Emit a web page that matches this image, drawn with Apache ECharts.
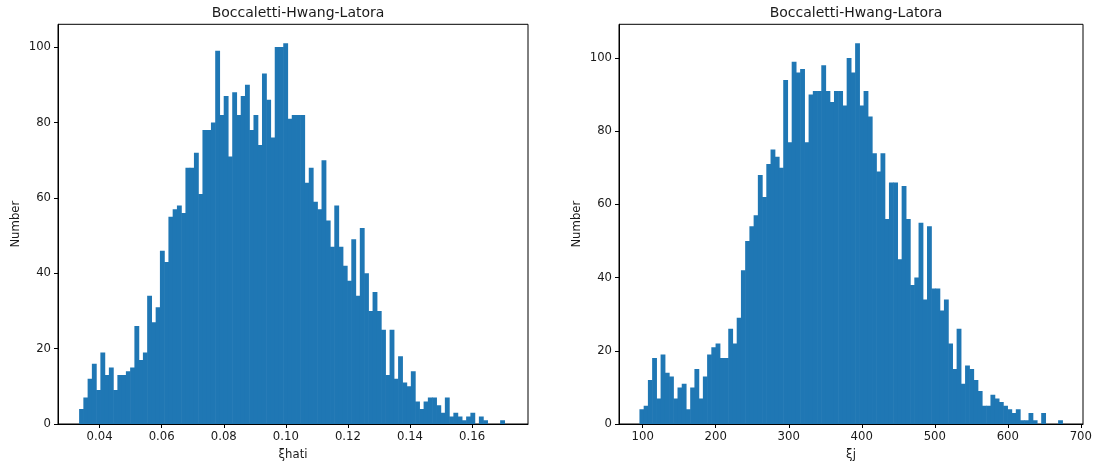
<!DOCTYPE html>
<html>
<head>
<meta charset="utf-8">
<script src="https://cdn.jsdelivr.net/npm/echarts@6/dist/echarts.min.js"></script>
<style>
html,body{margin:0;padding:0;background:#fff;}
#chart{width:1096px;height:466px;}
</style>
</head>
<body>
<div id="chart"></div>
<script>
// ---- Data ----
const chartTitle = 'Boccaletti-Hwang-Latora';
const yAxisName = 'Number';

// Left histogram: ξhati, 100 bins
const leftXName = 'ξhati';
const leftBinStart = 0.0334;
const leftBinWidth = 0.00137;
const leftCounts = [
  4, 7, 12, 16, 9, 19, 13, 15, 9, 13,
  13, 14, 15, 26, 17, 19, 34, 27, 31, 46,
  43, 55, 57, 58, 56, 68, 68, 72, 61, 78,
  78, 80, 99, 82, 87, 71, 88, 82, 87, 90,
  78, 82, 74, 93, 86, 76, 100, 100, 101, 81,
  82, 82, 82, 64, 68, 59, 57, 70, 54, 47,
  58, 47, 42, 38, 49, 34, 52, 40, 30, 35,
  30, 25, 13, 25, 12, 18, 11, 10, 14, 6,
  4, 6, 7, 7, 5, 3, 7, 2, 3, 2,
  1, 2, 3, 0, 2, 1, 0, 0, 0, 1
];
const leftXTicks = [0.04, 0.06, 0.08, 0.10, 0.12, 0.14, 0.16];
const leftXRange = [0.0266, 0.178];
const leftYMax = 106.05;

// Right histogram: ξj, 100 bins
const rightXName = 'ξj';
const rightBinStart = 95.5;
const rightBinWidth = 5.792;
const rightCounts = [
  4, 5, 12, 18, 7, 19, 14, 13, 7, 10,
  11, 4, 10, 15, 7, 13, 19, 21, 22, 18,
  18, 26, 22, 29, 42, 50, 54, 57, 68, 62,
  71, 75, 73, 70, 94, 77, 99, 96, 97, 77,
  90, 91, 91, 98, 91, 88, 91, 91, 87, 100,
  96, 104, 87, 91, 84, 74, 69, 74, 56, 66,
  66, 45, 65, 56, 38, 40, 55, 34, 54, 37,
  37, 31, 34, 22, 15, 26, 11, 16, 15, 12,
  9, 5, 5, 8, 7, 6, 5, 4, 3, 4,
  1, 1, 3, 1, 0, 3, 0, 0, 0, 1
];
const rightXTicks = [100, 200, 300, 400, 500, 600, 700];
const rightXRange = [67.5, 703];
const rightYMax = 109.2;

const yTicks = [0, 20, 40, 60, 80, 100];

// ---- Build ----
function binsToData(start, width, counts) {
  return counts.map((c, i) => [start + i * width, start + (i + 1) * width, c]);
}

const FONT = 'DejaVu Sans';
const TXT = '#1a1a1a';
const BAR = '#1f77b4';

function renderBar(params, api) {
  const h = api.value(2);
  if (!h) return null;
  const p0 = api.coord([api.value(0), h]);
  const p1 = api.coord([api.value(1), 0]);
  return {
    type: 'rect',
    shape: { x: p0[0], y: p0[1], width: p1[0] - p0[0] + 0.6, height: p1[1] - p0[1] },
    style: { fill: BAR }
  };
}

function xAxisDef(gridIndex, name, range, ticks, fmt) {
  return {
    type: 'value', gridIndex, name, nameLocation: 'middle', nameGap: 25,
    nameTextStyle: { fontFamily: FONT, fontSize: 11.7, color: TXT },
    min: range[0], max: range[1],
    splitLine: { show: false },
    axisLine: { show: true, onZero: false, lineStyle: { color: '#000', width: 1 } },
    axisTick: { show: true, length: 4, lineStyle: { color: '#000', width: 1 }, customValues: ticks },
    axisLabel: { fontFamily: FONT, fontSize: 11.7, color: TXT, margin: 7, customValues: ticks, formatter: fmt,
                 showMinLabel: true, showMaxLabel: true }
  };
}
function yAxisDef(gridIndex, maxv) {
  return {
    type: 'value', gridIndex, name: yAxisName, nameLocation: 'middle', nameGap: 36, nameRotate: 90,
    nameTextStyle: { fontFamily: FONT, fontSize: 11.7, color: TXT },
    min: 0, max: maxv,
    splitLine: { show: false },
    axisLine: { show: true, lineStyle: { color: '#000', width: 1 } },
    axisTick: { show: true, length: 4, lineStyle: { color: '#000', width: 1 }, customValues: yTicks },
    axisLabel: { fontFamily: FONT, fontSize: 11.7, color: TXT, margin: 7, customValues: yTicks }
  };
}

const chart = echarts.init(document.getElementById('chart'), null, { renderer: 'canvas' });
chart.setOption({
  animation: false,
  backgroundColor: '#fff',
  title: [
    { text: chartTitle, left: 293, top: 1, textAlign: 'center',
      textStyle: { fontFamily: FONT, fontSize: 14, fontWeight: 'normal', color: TXT } },
    { text: chartTitle, left: 851, top: 1, textAlign: 'center',
      textStyle: { fontFamily: FONT, fontSize: 14, fontWeight: 'normal', color: TXT } }
  ],
  grid: [
    { left: 58, top: 24.3, width: 470, height: 400, show: true, borderColor: '#000', borderWidth: 1, backgroundColor: 'transparent' },
    { left: 619, top: 24.3, width: 464, height: 400, show: true, borderColor: '#000', borderWidth: 1, backgroundColor: 'transparent' }
  ],
  xAxis: [
    xAxisDef(0, leftXName, leftXRange, leftXTicks, v => v.toFixed(2)),
    xAxisDef(1, rightXName, rightXRange, rightXTicks, v => String(Math.round(v)))
  ],
  yAxis: [ yAxisDef(0, leftYMax), yAxisDef(1, rightYMax) ],
  series: [
    { type: 'custom', xAxisIndex: 0, yAxisIndex: 0, renderItem: renderBar,
      encode: { x: [0, 1], y: 2 }, data: binsToData(leftBinStart, leftBinWidth, leftCounts), clip: true },
    { type: 'custom', xAxisIndex: 1, yAxisIndex: 1, renderItem: renderBar,
      encode: { x: [0, 1], y: 2 }, data: binsToData(rightBinStart, rightBinWidth, rightCounts), clip: true }
  ]
});
</script>
</body>
</html>
